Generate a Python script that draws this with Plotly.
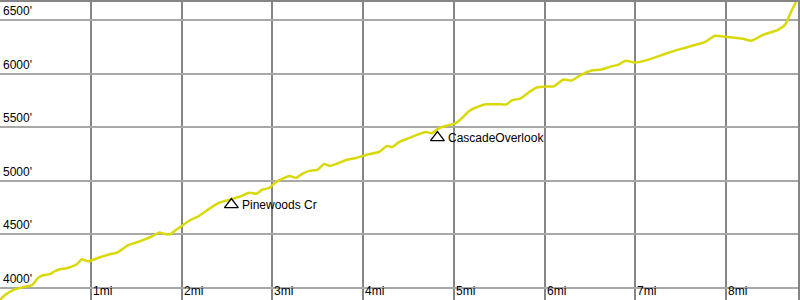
import plotly.graph_objects as go

# Elevation profile (miles, feet)
miles = [0.00, 0.055, 0.143, 0.253, 0.352, 0.418, 0.473, 0.549, 0.604, 0.659, 0.736, 0.846, 0.901, 0.967,
         1.099, 1.209, 1.297, 1.407, 1.538, 1.670, 1.758, 1.791, 1.868, 1.945, 1.978, 2.088, 2.198, 2.308,
         2.418, 2.527, 2.637, 2.747, 2.824, 2.890, 2.967, 3.044, 3.110, 3.187, 3.264, 3.330, 3.407, 3.495,
         3.571, 3.626, 3.703, 3.813, 3.923, 4.033, 4.176, 4.264, 4.319, 4.396, 4.505, 4.615, 4.692, 4.758,
         4.835, 4.945, 5.022, 5.088, 5.165, 5.275, 5.352, 5.527, 5.582, 5.637, 5.736, 5.824, 5.912, 6.011,
         6.099, 6.209, 6.297, 6.407, 6.516, 6.626, 6.725, 6.813, 6.890, 7.000, 7.143, 7.363, 7.549, 7.769,
         7.879, 7.989, 8.099, 8.187, 8.275, 8.407, 8.571, 8.648, 8.714, 8.769]
elev_ft = [3889, 3935, 3981, 4009, 4028, 4093, 4120, 4130, 4157, 4176, 4185, 4222, 4269, 4250,
           4287, 4315, 4333, 4398, 4435, 4481, 4519, 4509, 4500, 4546, 4565, 4630, 4676, 4741,
           4796, 4824, 4852, 4889, 4880, 4917, 4935, 4991, 5019, 5046, 5028, 5065, 5093, 5102,
           5157, 5139, 5157, 5194, 5213, 5241, 5269, 5324, 5315, 5361, 5398, 5435, 5454, 5444,
           5491, 5519, 5537, 5583, 5648, 5694, 5713, 5713, 5713, 5750, 5769, 5824, 5870, 5880,
           5880, 5944, 5935, 5991, 6028, 6037, 6065, 6083, 6120, 6102, 6130, 6194, 6241, 6296,
           6352, 6343, 6333, 6324, 6306, 6361, 6407, 6454, 6574, 6667]

# Waypoints
wp_names = ["Pinewoods Cr", "CascadeOverlook"]
wp_miles = [2.549, 4.819]
wp_elev = [4778, 5403]

# Ticks
x_ticks = [1, 2, 3, 4, 5, 6, 7, 8]
x_labels = ["1mi", "2mi", "3mi", "4mi", "5mi", "6mi", "7mi", "8mi"]
y_ticks = [4000, 4500, 5000, 5500, 6000, 6500]
y_labels = ["4000'", "4500'", "5000'", "5500'", "6000'", "6500'"]

FONT = "Liberation Sans, Arial, sans-serif"

fig = go.Figure()
fig.add_trace(go.Scatter(
    x=miles, y=elev_ft, mode="lines",
    line=dict(color="#d9d90a", width=2.5, shape="spline", smoothing=0.6),
    hoverinfo="skip", showlegend=False))
fig.add_trace(go.Scatter(
    x=wp_miles, y=wp_elev, mode="markers",
    marker=dict(symbol="triangle-up-open", size=12, color="black", line=dict(width=1.3, color="black")),
    hoverinfo="skip", showlegend=False))

annotations = []
for name, xm, ye in zip(wp_names, wp_miles, wp_elev):
    annotations.append(dict(x=xm, y=ye, text=name, showarrow=False, xanchor="left", yanchor="middle",
                            xshift=9, font=dict(family=FONT, size=12, color="black")))
for xv, lab in zip(x_ticks, x_labels):
    annotations.append(dict(x=xv, y=0, yref="paper", text=lab, showarrow=False, xanchor="left",
                            yanchor="bottom", xshift=0, yshift=0,
                            font=dict(family=FONT, size=12, color="black")))
for yv, lab in zip(y_ticks, y_labels):
    annotations.append(dict(x=0, xref="paper", y=yv, text=lab, showarrow=False, xanchor="left",
                            yanchor="bottom", xshift=1, yshift=0,
                            font=dict(family=FONT, size=12, color="black")))

fig.update_layout(
    width=800, height=300,
    margin=dict(l=0, r=0, t=0, b=0),
    paper_bgcolor="white", plot_bgcolor="white",
    annotations=annotations,
    xaxis=dict(range=[0, 800 / 91], tickvals=x_ticks, showticklabels=False, showgrid=True,
               gridcolor="#858585", gridwidth=2, zeroline=False,
               showline=True, mirror=True, linecolor="#858585", linewidth=2),
    yaxis=dict(range=[3889, 6667], tickvals=y_ticks, showticklabels=False, showgrid=True,
               gridcolor="#a8a8a8", gridwidth=2, zeroline=False,
               showline=True, mirror=True, linecolor="#858585", linewidth=2),
)

fig.write_html("out.html")
